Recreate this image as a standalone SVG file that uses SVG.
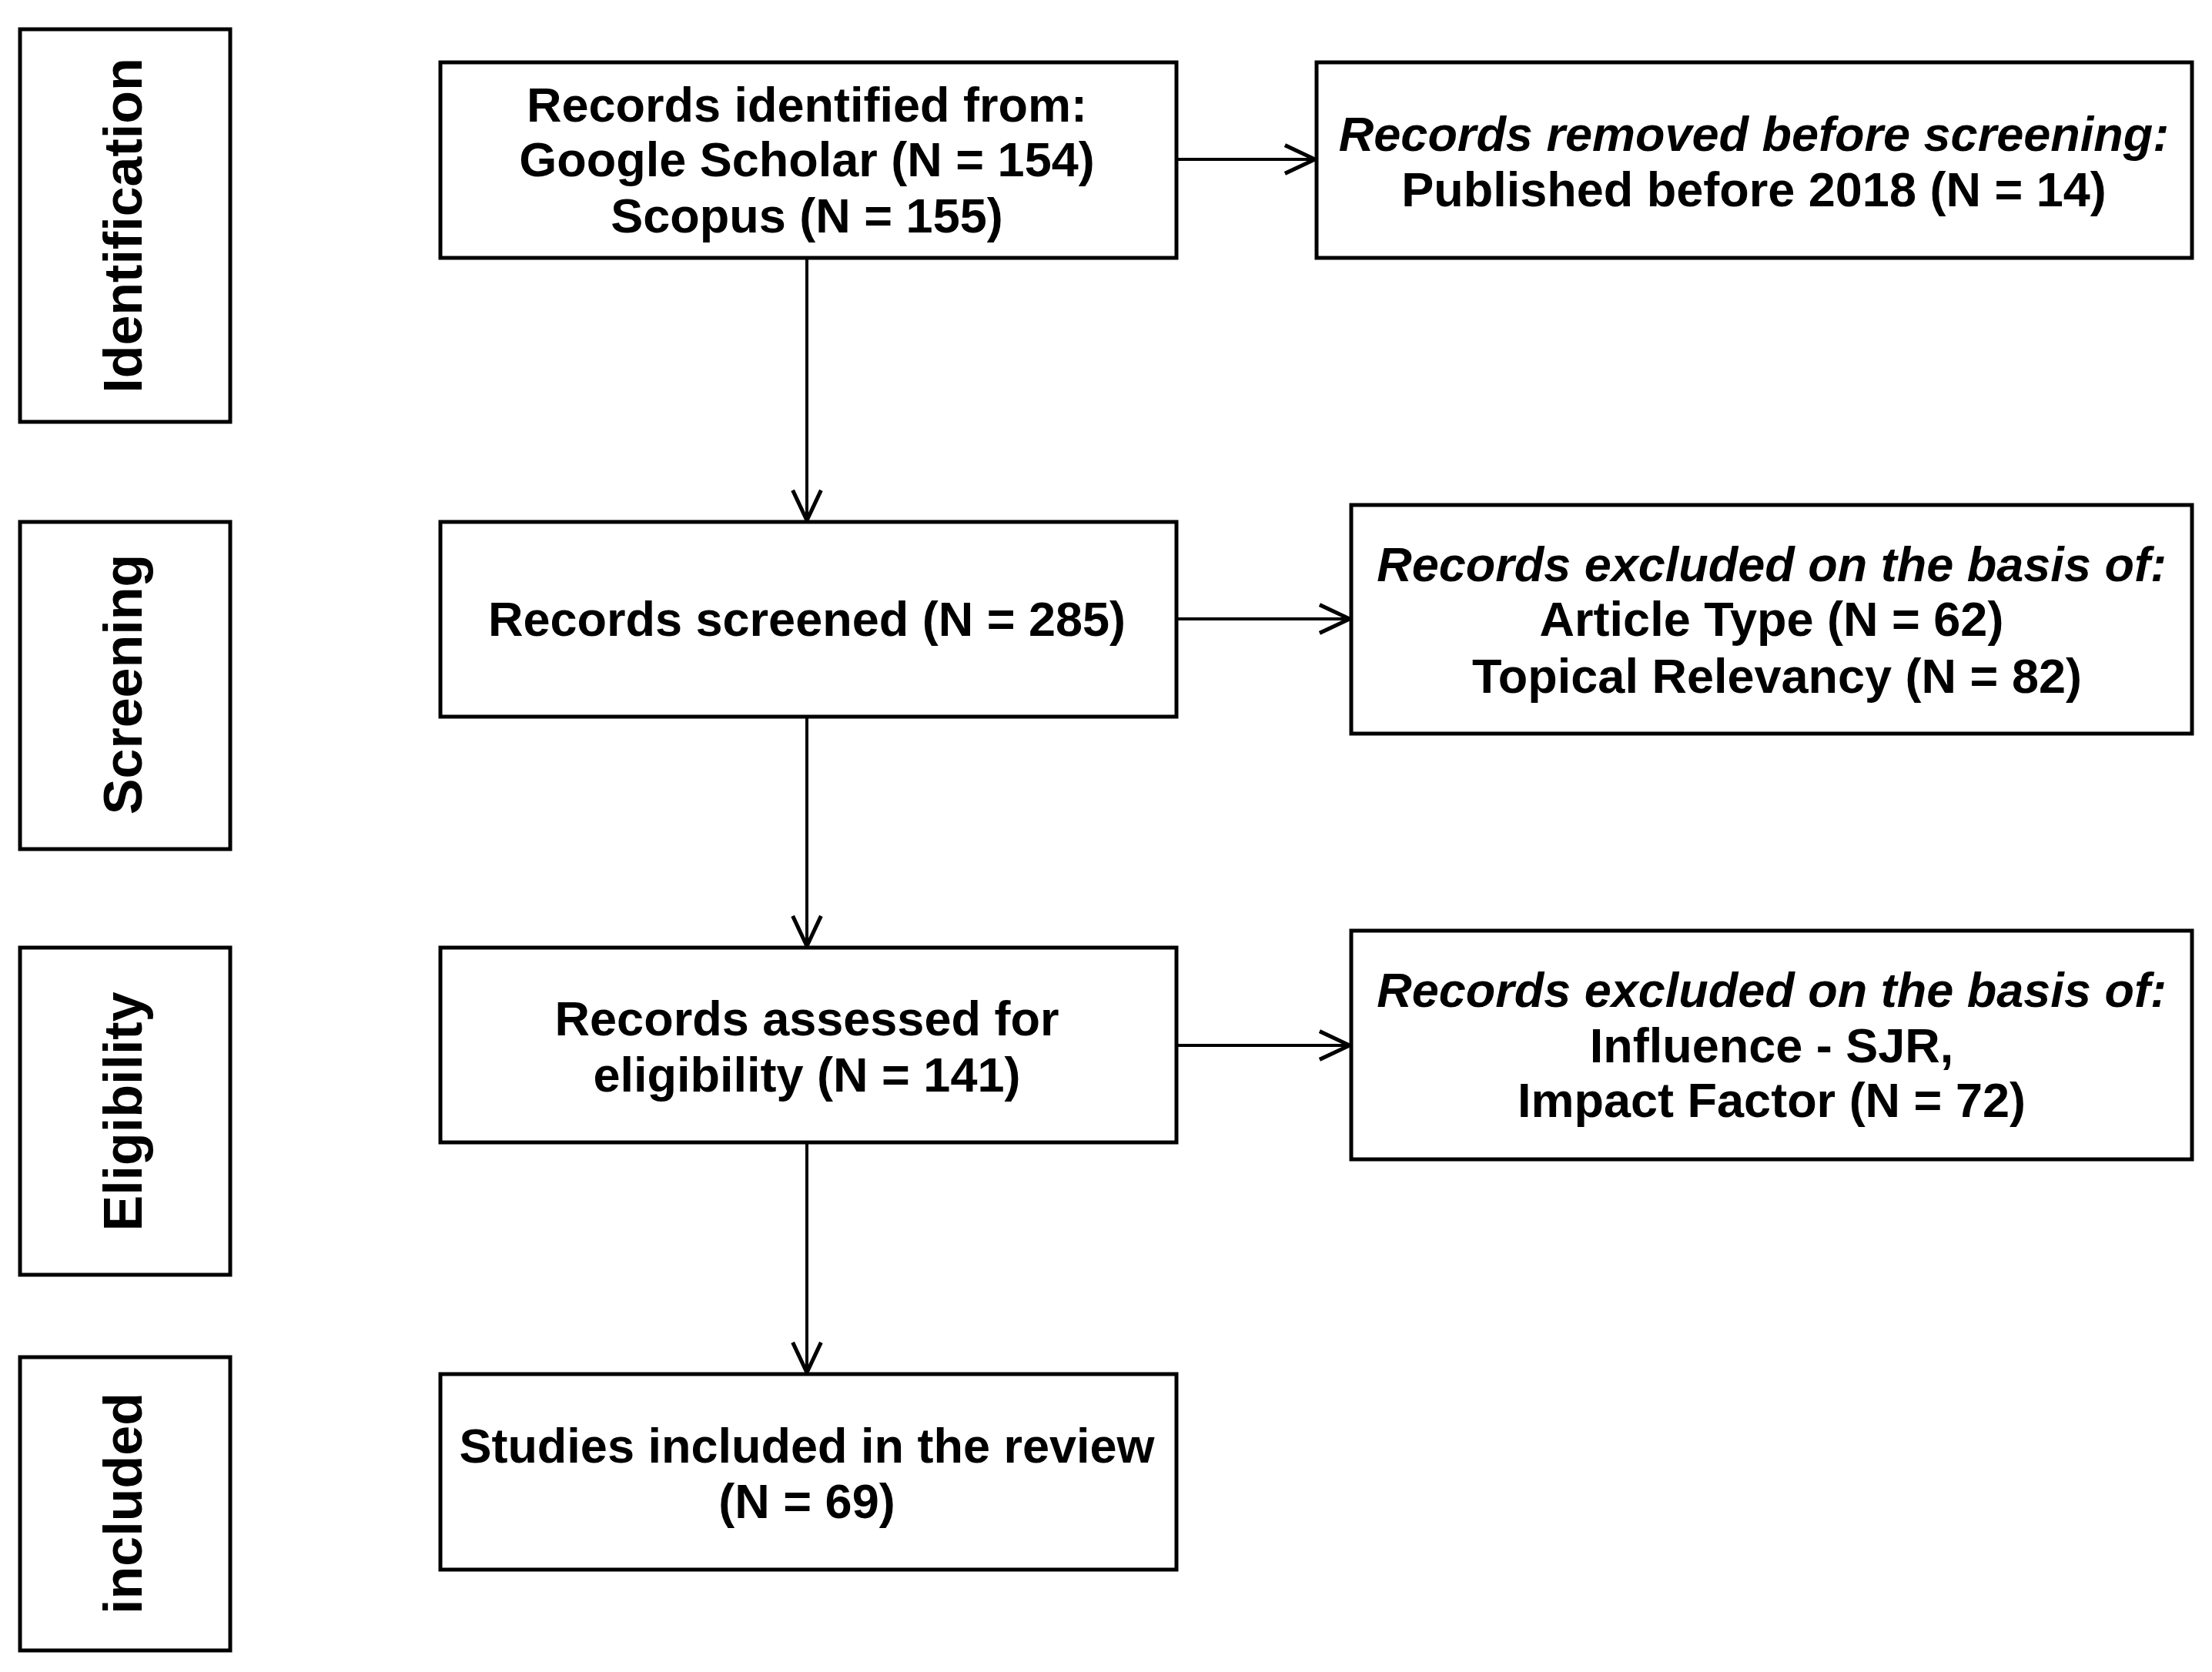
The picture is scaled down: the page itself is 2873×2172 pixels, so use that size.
<svg xmlns="http://www.w3.org/2000/svg" width="2873" height="2172" viewBox="0 0 2873 2172">
<style>
rect{fill:#fff;stroke:#000;stroke-width:5}
text{font-family:"Liberation Sans",Arial,sans-serif;font-weight:bold;font-size:63px;text-anchor:middle;fill:#000}
.v{font-size:70px}
.i{font-style:italic}
.c line{stroke:#000;stroke-width:4}
</style>
<defs>
<marker id="b" viewBox="0 0 20 20" refX="19" refY="10" markerWidth="46" markerHeight="46" markerUnits="userSpaceOnUse" orient="auto"><path d="M2,2 L19,10 L2,18" fill="none" stroke="#000" stroke-width="2.2"/></marker></defs>
<rect width="2873" height="2172" style="stroke:none"/>
<g id="stage-identification"><rect x="26" y="38" width="273" height="510"/><text class="v" transform="translate(159,293) rotate(-90)" dy="25">Identification</text></g>
<g id="stage-screening"><rect x="26" y="678" width="273" height="425"/><text class="v" transform="translate(159,889) rotate(-90)" dy="25">Screening</text></g>
<g id="stage-eligibility"><rect x="26" y="1231" width="273" height="425"/><text class="v" transform="translate(159,1444) rotate(-90)" dy="25">Eligibility</text></g>
<g id="stage-included"><rect x="26" y="1763" width="273" height="381"/><text class="v" transform="translate(159,1953) rotate(-90)" dy="25">included</text></g>
<g id="identified"><rect x="572" y="81" width="956" height="254"/><text x="1048" y="158">Records identified from:</text><text x="1048" y="229">Google Scholar (N = 154)</text><text x="1048" y="302">Scopus (N = 155)</text></g>
<g id="screened"><rect x="572" y="678" width="956" height="253"/><text x="1048" y="826">Records screened (N = 285)</text></g>
<g id="assessed"><rect x="572" y="1231" width="956" height="253"/><text x="1048" y="1345">Records assessed for</text><text x="1048" y="1418">eligibility (N = 141)</text></g>
<g id="included"><rect x="572" y="1785" width="956" height="254"/><text x="1048" y="1900">Studies included in the review</text><text x="1048" y="1972">(N = 69)</text></g>
<g id="removed"><rect x="1710" y="81" width="1137" height="254"/><text class="i" x="2278" y="196">Records removed before screening:</text><text x="2278" y="268">Published before 2018 (N = 14)</text></g>
<g id="excluded1"><rect x="1755" y="656" width="1092" height="297"/><text class="i" x="2301" y="755">Records excluded on the basis of:</text><text x="2301" y="826">Article Type (N = 62)</text><text x="2308" y="900">Topical Relevancy (N = 82)</text></g>
<g id="excluded2"><rect x="1755" y="1209" width="1092" height="297"/><text class="i" x="2301" y="1308">Records excluded on the basis of:</text><text x="2301" y="1380">Influence - SJR,</text><text x="2301" y="1451">Impact Factor (N = 72)</text></g>
<g class="c" id="connectors">
<line x1="1048" y1="335" x2="1048" y2="676" marker-end="url(#b)"/>
<line x1="1048" y1="931" x2="1048" y2="1229" marker-end="url(#b)"/>
<line x1="1048" y1="1484" x2="1048" y2="1783" marker-end="url(#b)"/>
<line x1="1528" y1="207" x2="1708" y2="207" marker-end="url(#b)"/>
<line x1="1528" y1="804" x2="1753" y2="804" marker-end="url(#b)"/>
<line x1="1528" y1="1358" x2="1753" y2="1358" marker-end="url(#b)"/>
</g>
</svg>
